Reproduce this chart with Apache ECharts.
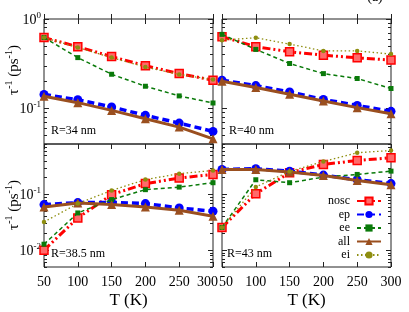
<!DOCTYPE html>
<html><head><meta charset="utf-8">
<script src="https://cdn.jsdelivr.net/npm/echarts@6/dist/echarts.min.js"></script>
<style>html,body{margin:0;padding:0;background:#fff}#c{width:409px;height:312px}</style>
</head><body><div id="c"></div>
<script>
const temps = [50, 100, 150, 200, 250, 300];
const xTicks = [50, 100, 150, 200, 250, 300];
const seriesNames = ['nosc', 'ep', 'ee', 'all', 'ei'];
const panelLabels = ['R=34 nm', 'R=40 nm', 'R=38.5 nm', 'R=43 nm'];
const topYRange = [0.04, 1];
const bottomYRange = [0.005, 0.8];
// R=34 nm
const nosc34 = [0.62, 0.49, 0.38, 0.30, 0.245, 0.207];
const ep34   = [0.143, 0.125, 0.104, 0.0836, 0.0685, 0.0553];
const ee34   = [0.62, 0.37, 0.241, 0.177, 0.138, 0.115];
const all34  = [0.137, 0.116, 0.095, 0.0767, 0.0618, 0.0457];
const ei34   = [0.62, 0.48, 0.37, 0.29, 0.24, 0.21];
// R=40 nm
const nosc40 = [0.634, 0.49, 0.43, 0.394, 0.368, 0.347];
const ep40   = [0.207, 0.18, 0.153, 0.126, 0.108, 0.0927];
const ee40   = [0.673, 0.457, 0.318, 0.245, 0.216, 0.167];
const all40  = [0.201, 0.171, 0.144, 0.121, 0.102, 0.0873];
const ei40   = [0.58, 0.617, 0.524, 0.44, 0.44, 0.405];
// R=38.5 nm
const nosc385 = [0.010, 0.0379, 0.099, 0.156, 0.196, 0.228];
const ep385   = [0.0656, 0.0713, 0.072, 0.0684, 0.0571, 0.0499];
const ee385   = [0.0128, 0.0465, 0.0807, 0.1216, 0.135, 0.162];
const all385  = [0.0595, 0.070, 0.0656, 0.0595, 0.052, 0.0405];
const ei385   = [0.0321, 0.0684, 0.118, 0.184, 0.235, 0.269];
// R=43 nm
const nosc43 = [0.0255, 0.103, 0.245, 0.344, 0.405, 0.454];
const ep43   = [0.28, 0.288, 0.261, 0.222, 0.183, 0.156];
const ee43   = [0.0255, 0.183, 0.162, 0.204, 0.228, 0.261];
const all43  = [0.278, 0.278, 0.251, 0.219, 0.178, 0.149];
const ei43   = [0.0255, 0.136, 0.258, 0.389, 0.557, 0.612];

const FONT = '"Liberation Serif", "DejaVu Serif", serif';
const L = Math.log10;

function logTicks(range) {
  const lo = L(range[0]), hi = L(range[1]);
  const major = [], minor = [];
  for (let n = Math.floor(lo) - 1; n <= Math.ceil(hi); n++) {
    if (n >= lo - 1e-9 && n <= hi + 1e-9) major.push(n);
    for (let k = 2; k <= 9; k++) {
      const v = n + L(k);
      if (v >= lo - 1e-9 && v <= hi + 1e-9) minor.push(v);
    }
  }
  return { lo, hi, major, minor };
}

const panels = [
  { data: [nosc34, ep34, ee34, all34, ei34], range: topYRange, grid: { left: 44, top: 19, width: 169, height: 125 }, yLab: true, xLab: false },
  { data: [nosc40, ep40, ee40, all40, ei40], range: topYRange, grid: { left: 222, top: 19, width: 169, height: 125 }, yLab: false, xLab: false },
  { data: [nosc385, ep385, ee385, all385, ei385], range: bottomYRange, grid: { left: 44, top: 144, width: 169, height: 123 }, yLab: true, xLab: true, shift: { v: 300, pad: [0, 11, 0, 0] } },
  { data: [nosc43, ep43, ee43, all43, ei43], range: bottomYRange, grid: { left: 222, top: 144, width: 169, height: 123 }, yLab: false, xLab: true, shift: { v: 50, pad: [0, 0, 0, 8] } }
];

const styles = [
  { color: '#ff0000', symbol: 'rect', size: 8, lw: 3, dash: [8, 3, 2, 3, 2, 3], fill: '#ff6a6a', bw: 1.5 },
  { color: '#0000ff', symbol: 'circle', size: 9, lw: 3.5, dash: [7, 4], fill: '#0000ff', bw: 0 },
  { color: '#0a7a0a', symbol: 'rect', size: 5, lw: 1.5, dash: [4, 3], fill: '#0a7a0a', bw: 0 },
  { color: '#9a4f1f', symbol: 'triangle', size: 9, lw: 3, dash: 'solid', fill: '#9a4f1f', bw: 0 },
  { color: '#8e8e10', symbol: 'circle', size: 4.5, lw: 1.3, dash: [1.5, 2.5], fill: '#8e8e10', bw: 0 }
];

const grids = [], xAxes = [], yAxes = [], series = [];
const supRich = {
  b: { fontFamily: FONT, fontSize: 14, color: '#000', lineHeight: 16, verticalAlign: 'bottom' },
  s: { fontFamily: FONT, fontSize: 9, color: '#000', lineHeight: 16, verticalAlign: 'top' }
};

panels.forEach((p, gi) => {
  grids.push(Object.assign({ show: true, borderColor: '#222', borderWidth: 1, backgroundColor: 'transparent', containLabel: false }, p.grid));
  const t = logTicks(p.range);
  const xi = xAxes.length;
  const xRich = {
    n: { fontFamily: FONT, fontSize: 14, color: '#000' },
    sh: { fontFamily: FONT, fontSize: 14, color: '#000', padding: p.shift ? p.shift.pad : 0 }
  };
  xAxes.push({
    type: 'value', gridIndex: gi, position: 'bottom', min: 50, max: 300, interval: 50,
    axisLine: { show: false }, splitLine: { show: false },
    axisTick: { inside: true, length: 5, lineStyle: { color: '#222' } },
    axisLabel: {
      show: p.xLab, margin: 8, customValues: xTicks,
      formatter: v => (p.shift && v === p.shift.v) ? '{sh|' + v + '}' : '{n|' + v + '}',
      rich: xRich
    },
    name: p.xLab ? 'T (K)' : '', nameLocation: 'middle', nameGap: 25,
    nameTextStyle: { fontFamily: FONT, fontSize: 17, color: '#000' }
  });
  xAxes.push({
    type: 'value', gridIndex: gi, position: 'top', min: 50, max: 300, interval: 50,
    axisLine: { show: false }, splitLine: { show: false },
    axisTick: { inside: true, length: 5, lineStyle: { color: '#222' } },
    axisLabel: { show: false }
  });
  const yi = yAxes.length;
  ['left', 'right'].forEach(pos => {
    yAxes.push({
      type: 'value', gridIndex: gi, position: pos, min: t.lo, max: t.hi,
      axisLine: { show: false }, splitLine: { show: false },
      axisTick: { inside: true, length: 5, customValues: t.major, lineStyle: { color: '#222' } },
      axisLabel: {
        show: pos === 'left' && p.yLab, customValues: t.major, margin: 3,
        formatter: v => '{b|10}{s|' + Math.round(v) + '}', rich: supRich
      }
    });
    yAxes.push({
      type: 'value', gridIndex: gi, position: pos, min: t.lo, max: t.hi,
      axisLine: { show: false }, splitLine: { show: false },
      axisTick: { inside: true, length: 3, customValues: t.minor, lineStyle: { color: '#222' } },
      axisLabel: { show: false }
    });
  });
  p.data.forEach((arr, si) => {
    const st = styles[si];
    series.push({
      name: seriesNames[si], type: 'line', xAxisIndex: xi, yAxisIndex: yi,
      data: temps.map((tv, i) => [tv, L(arr[i])]),
      symbol: st.symbol, symbolSize: st.size, showAllSymbol: true,
      lineStyle: { color: st.color, width: st.lw, type: st.dash },
      itemStyle: { color: st.fill, borderColor: st.color, borderWidth: st.bw },
      z: 2 + si, silent: true
    });
  });
});

const yName = '{a|τ}{s|-1}{a| (ps}{s|-1}{a|)}';
const nameRich = {
  a: { fontFamily: FONT, fontSize: 15, fill: '#000', lineHeight: 18, verticalAlign: 'bottom' },
  s: { fontFamily: FONT, fontSize: 10, fill: '#000', lineHeight: 18, verticalAlign: 'top' }
};
const labelText = (txt, x, y) => ({
  type: 'text', x: x, y: y, silent: true,
  style: { text: txt, font: '12px ' + FONT, fill: '#000', textAlign: 'left', textVerticalAlign: 'middle' }
});

const option = {
  animation: false,
  backgroundColor: '#fff',
  grid: grids, xAxis: xAxes, yAxis: yAxes, series: series,
  legend: {
    data: seriesNames, orient: 'vertical', right: 27, top: 195, align: 'right',
    itemWidth: 24, itemHeight: 9, itemGap: 1.5, padding: 0,
    textStyle: { fontFamily: FONT, fontSize: 12, color: '#000', padding: [0, 2, 0, 0] },
    selectedMode: false
  },
  graphic: [
    labelText(panelLabels[0], 51, 131),
    labelText(panelLabels[1], 229, 131),
    labelText(panelLabels[2], 51, 254),
    labelText(panelLabels[3], 227, 254),
    { type: 'text', x: 13, y: 70, rotation: Math.PI / 2, silent: true,
      style: { text: yName, rich: nameRich, textAlign: 'center', textVerticalAlign: 'middle' } },
    { type: 'text', x: 13, y: 205, rotation: Math.PI / 2, silent: true,
      style: { text: yName, rich: nameRich, textAlign: 'center', textVerticalAlign: 'middle' } },
    { type: 'text', x: 375, y: 4, silent: true,
      style: { text: '(a)', font: '14px ' + FONT, fill: '#000', textAlign: 'center', textVerticalAlign: 'bottom' } }
  ]
};
const chart = echarts.init(document.getElementById('c'), null, { renderer: 'canvas' });
chart.setOption(option);
</script>
</body></html>
